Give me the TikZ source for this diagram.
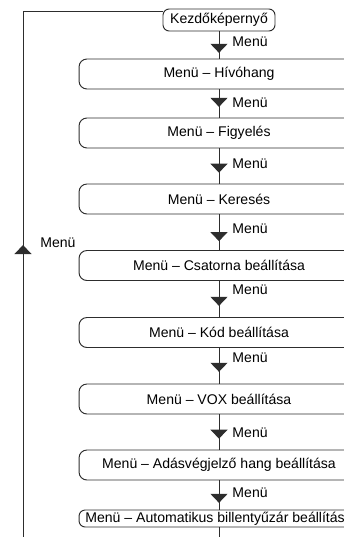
\documentclass[tikz,border=0pt]{standalone}
\usepackage{fontspec}
\setmainfont{Liberation Sans}
\usetikzlibrary{arrows.meta,decorations.markings}
\definecolor{linegray}{RGB}{45, 45, 45}

\begin{document}
\begin{tikzpicture}[x=0.02cm, y=-0.02cm,
    font=\fontsize{8}{9.6}\selectfont,
    menubox/.style={rectangle, rounded corners=4.5pt, draw=linegray,
                line width=0.55pt, minimum width=5.6cm,
                minimum height=0.6cm, inner sep=0pt, align=center},
    startbox/.style={menubox, rounded corners=3.5pt,
                minimum width=2.24cm, minimum height=0.44cm},
    lastbox/.style={menubox, rounded corners=3.5pt, minimum height=0.34cm},
    plain/.style={draw=linegray, line width=0.55pt},
    flow/.style={plain, postaction={decorate},
                decoration={markings, mark=at position #1 with
                {\arrow{Triangle[width=0.34cm, length=0.18cm]}}}},
    lbl/.style={anchor=west, inner sep=0pt, xshift=0.26cm}]

    \useasboundingbox (0,0) rectangle (344,537);
    \clip (0,0) rectangle (344,537);

    \node[startbox] (start) at (219, 20)    {Kezdőképernyő};
    \node[menubox]  (hivo)  at (219, 74)    {Menü – Hívóhang};
    \node[menubox]  (figy)  at (219,133)    {Menü – Figyelés};
    \node[menubox]  (ker)   at (219,199)    {Menü – Keresés};
    \node[menubox]  (csat)  at (219,265.5)  {Menü – Csatorna beállítása};
    \node[menubox]  (kod)   at (219,332.5)  {Menü – Kód beállítása};
    \node[menubox]  (vox)   at (219,399)    {Menü – VOX beállítása};
    \node[menubox]  (adas)  at (219,465)    {Menü – Adásvégjelző hang beállítása};
    \node[lastbox]  (auto)  at (219,518.5)  {Menü – Automatikus billentyűzár beállítása};

    \draw[flow=0.79] (start) -- node[lbl, pos=0.39] (m1) {Menü} (hivo);
    \draw[flow=0.62] (hivo)  -- node[lbl, pos=0.48] (m2) {Menü} (figy);
    \draw[flow=0.69] (figy)  -- node[lbl, pos=0.44] (m3) {Menü} (ker);
    \draw[flow=0.75] (ker)   -- node[lbl, pos=0.39] (m4) {Menü} (csat);
    \draw[flow=0.69] (csat)  -- node[lbl, pos=0.25] (m5) {Menü} (kod);
    \draw[flow=0.67] (kod)   -- node[lbl, pos=0.28] (m6) {Menü} (vox);
    \draw[flow=0.69] (vox)   -- node[lbl, pos=0.53] (m7) {Menü} (adas);
    \draw[flow=0.77] (adas)  -- node[lbl, pos=0.43] (m8) {Menü} (auto);

    % loop back to the start screen
    \coordinate (autoout) at (219,545);
    \coordinate (loopbot) at (23,545);
    \coordinate (looptop) at (23,11);
    \draw[plain] (auto) -- (autoout);
    \draw[flow=6cm, line join=miter] (loopbot) -- (looptop) -- (start.west |- looptop);
    \node[anchor=west, inner sep=0pt] (loopmenu) at (40,243) {Menü};

\end{tikzpicture}
\end{document}
